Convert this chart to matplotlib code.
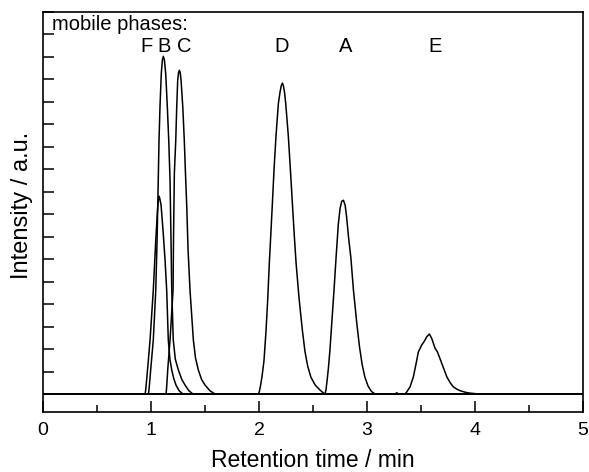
import numpy as np
import matplotlib
matplotlib.use("Agg")
import matplotlib.pyplot as plt
from matplotlib.ticker import MultipleLocator

plt.rcParams['font.family'] = ['Liberation Sans', 'DejaVu Sans']

# chromatograms (retention time in min, intensity in a.u.)
F_t = [0.0, 0.944, 0.950, 0.958, 0.970, 0.991, 1.021, 1.044, 1.060, 1.068, 1.074, 1.081,
       1.093, 1.111, 1.130, 1.145, 1.160, 1.175, 1.192, 1.210, 1.231, 1.260, 1.296, 5.0]
F_i = [0.0, 0.0, 0.15, 0.55, 1.20, 2.40, 4.62, 6.84, 8.18, 8.62, 8.80, 8.70,
       8.40, 7.29, 5.96, 4.62, 2.40, 1.55, 1.07, 0.70, 0.40, 0.15, 0.0, 0.0]

B_t = [0.0, 0.975, 0.980, 0.988, 0.999, 1.021, 1.044, 1.056, 1.067, 1.074, 1.083, 1.095,
       1.105, 1.114, 1.124, 1.136, 1.151, 1.164, 1.176, 1.185, 1.192, 1.206, 1.225,
       1.253, 1.285, 1.315, 1.350, 1.389, 5.0]
B_i = [0.0, 0.0, 0.15, 0.55, 1.20, 2.40, 4.62, 6.84, 9.51, 11.29, 12.77, 14.25,
       14.85, 15.02, 14.85, 14.25, 12.77, 11.29, 9.51, 6.84, 4.62, 2.40, 1.55,
       1.07, 0.65, 0.40, 0.15, 0.0, 0.0]

C_t = [0.0, 1.139, 1.143, 1.148, 1.155, 1.176, 1.204, 1.208, 1.212, 1.216, 1.229, 1.238,
       1.247, 1.255, 1.262, 1.270, 1.278, 1.294, 1.308, 1.319, 1.331, 1.343, 1.361,
       1.392, 1.412, 1.438, 1.468, 1.500, 1.545, 1.593, 5.0]
C_i = [0.0, 0.0, 0.20, 0.55, 1.10, 2.40, 4.62, 6.84, 8.32, 9.81, 11.29, 12.77,
       13.96, 14.30, 14.40, 14.30, 13.96, 12.77, 11.29, 9.81, 8.32, 6.40, 4.62,
       2.40, 1.60, 1.07, 0.65, 0.40, 0.15, 0.0, 0.0]

D_t = [0.0, 1.994, 2.003, 2.013, 2.028, 2.046, 2.065, 2.081, 2.095, 2.109, 2.124, 2.139,
       2.157, 2.179, 2.194, 2.205, 2.216, 2.226, 2.236, 2.247, 2.271, 2.290, 2.308,
       2.327, 2.343, 2.370, 2.401, 2.425, 2.450, 2.480, 2.520, 2.560, 2.590, 2.611, 5.0]
D_i = [0.0, 0.0, 0.12, 0.35, 0.80, 1.50, 2.84, 4.28, 5.82, 7.10, 8.53, 10.00,
       11.48, 12.92, 13.42, 13.70, 13.83, 13.70, 13.42, 12.92, 11.48, 10.00, 8.53,
       7.00, 5.82, 4.28, 2.84, 1.90, 1.25, 0.75, 0.40, 0.20, 0.07, 0.0, 0.0]

A_t = [0.0, 2.611, 2.620, 2.630, 2.643, 2.657, 2.673, 2.694, 2.713, 2.734, 2.750, 2.765,
       2.781, 2.797, 2.810, 2.828, 2.850, 2.874, 2.905, 2.930, 2.955, 2.980,
       3.010, 3.040, 3.074, 5.0]
A_i = [0.0, 0.0, 0.20, 0.60, 1.20, 2.00, 3.14, 4.62, 6.07, 7.56, 8.25, 8.57,
       8.62, 8.40, 7.90, 7.00, 6.07, 4.62, 3.14, 2.10, 1.30, 0.75,
       0.35, 0.12, 0.0, 0.0]

E_t = [0.0, 3.260, 3.275, 3.290, 3.352, 3.368, 3.398, 3.429, 3.454, 3.475, 3.506,
       3.530, 3.553, 3.577, 3.599, 3.630, 3.651, 3.692, 3.738, 3.770, 3.799, 3.830,
       3.861, 3.910, 3.954, 4.046, 5.0]
E_i = [0.0, 0.0, 0.06, 0.0, 0.0, 0.10, 0.32, 0.77, 1.36, 1.88, 2.18,
       2.35, 2.55, 2.67, 2.47, 2.03, 1.88, 1.36, 0.77, 0.50, 0.32, 0.22,
       0.15, 0.08, 0.04, 0.0, 0.0]

phases = ['F', 'B', 'C', 'D', 'A', 'E']
times = [F_t, B_t, C_t, D_t, A_t, E_t]
intensities = [F_i, B_i, C_i, D_i, A_i, E_i]


fig = plt.figure(figsize=(5.89, 4.72), dpi=100)
ax = fig.add_axes([0.073, 0.127, 0.917, 0.848])

for t, i in zip(times, intensities):
    ax.plot(t, i, color='black', lw=1.1)

ax.set_xlim(0, 5)
ax.set_ylim(-0.8, 17.0)
ax.xaxis.set_major_locator(MultipleLocator(1))
ax.xaxis.set_minor_locator(MultipleLocator(0.5))
ax.yaxis.set_major_locator(MultipleLocator(1))
ax.tick_params(axis='x', which='major', direction='in', length=8, width=1.1,
               labelsize=14, pad=7)
ax.tick_params(axis='x', which='minor', direction='in', length=5, width=1.1)
ax.tick_params(axis='y', which='major', direction='in', length=8, width=1.1,
               labelleft=False)
for s in ax.spines.values():
    s.set_linewidth(1.2)

ax.set_xlabel('Retention time / min', fontsize=16.5, labelpad=7)
ax.set_ylabel('Intensity / a.u.', fontsize=17)
ax.yaxis.set_label_coords(-0.019, 0.517)

# labels of the mobile phases above the peaks
ax.text(0.08, 16.45, 'mobile phases:', fontsize=14.5, ha='left', va='center')
label_x = [0.96, 1.125, 1.31, 2.21, 2.80, 3.63]
for name, x in zip(phases, label_x):
    ax.text(x, 15.45, name, fontsize=14.5, ha='center', va='center')

fig.savefig('out.png', dpi=100)
